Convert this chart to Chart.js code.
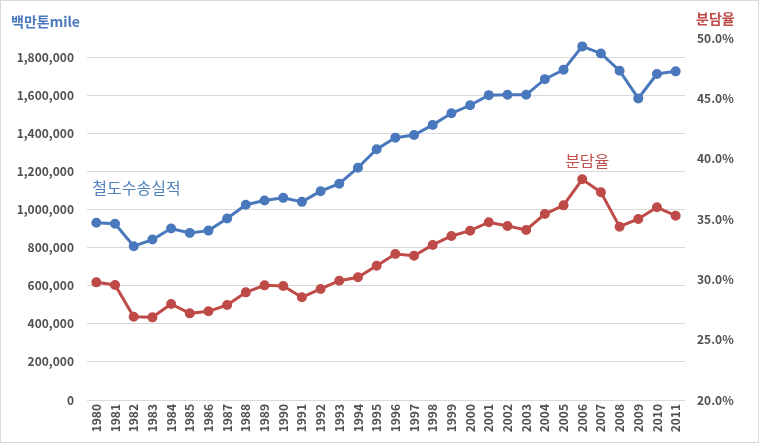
<!DOCTYPE html>
<html>
<head>
<meta charset="utf-8">
<script src="https://cdn.jsdelivr.net/npm/chart.js@4.4.1/dist/chart.umd.min.js"></script>
<style>
  html, body { margin: 0; padding: 0; background: #fff; }
  #wrap { width: 759px; height: 443px; }
</style>
</head>
<body>
<div id="wrap"><canvas id="chart" width="759" height="443"></canvas></div>
<script>
// 연도
const years = ['1980','1981','1982','1983','1984','1985','1986','1987','1988','1989',
  '1990','1991','1992','1993','1994','1995','1996','1997','1998','1999',
  '2000','2001','2002','2003','2004','2005','2006','2007','2008','2009','2010','2011'];

// 철도수송실적 (백만톤mile)
const railTonMiles = [930000, 925000, 807000, 842000, 900000, 877000, 889000, 953000, 1025000, 1047000,
  1061000, 1040000, 1096000, 1135000, 1219000, 1316000, 1377000, 1391000, 1444000, 1505000,
  1547000, 1600000, 1602000, 1602000, 1684000, 1733000, 1856000, 1819000, 1728000, 1583000, 1711000, 1725000];

// 분담율 (%)
const shareRate = [29.75, 29.53, 26.90, 26.85, 27.96, 27.18, 27.35, 27.87, 28.92, 29.50,
  29.45, 28.51, 29.20, 29.89, 30.17, 31.13, 32.10, 31.96, 32.85, 33.59,
  34.03, 34.73, 34.42, 34.09, 35.41, 36.13, 38.29, 37.21, 34.36, 35.00, 35.97, 35.27];

// 눈금
const leftTicks = [0, 200000, 400000, 600000, 800000, 1000000, 1200000, 1400000, 1600000, 1800000];
const rightTicks = [20, 25, 30, 35, 40, 45, 50];

const blue = '#4a78bd';
const red = '#be4b48';
const tickColor = '#505050';
const korFont = '"Noto Sans CJK KR", "Noto Sans", sans-serif';

// 배경, 테두리, 축 제목, 라벨
const extras = {
    id: 'extras',
    beforeDraw(chart) {
        const ctx = chart.ctx;
        ctx.save();
        ctx.fillStyle = '#fff';
        ctx.fillRect(0, 0, chart.width, chart.height);
        ctx.strokeStyle = '#d9d9d9';
        ctx.lineWidth = 1;
        ctx.strokeRect(0.5, 0.5, chart.width - 1, chart.height - 1);
        ctx.restore();
    },
    afterDraw(chart) {
        const ctx = chart.ctx;
        const x = chart.scales.x, y = chart.scales.y, y1 = chart.scales.y1;
        ctx.save();
        ctx.textBaseline = 'middle';

        // 축 제목
        ctx.font = 'bold 14px ' + korFont;
        ctx.fillStyle = blue;
        ctx.textAlign = 'left';
        ctx.fillText('백만톤mile', 11, 22);
        ctx.fillStyle = red;
        ctx.fillText('분담율', y1.left + 11, 19);

        // 시리즈 라벨
        ctx.font = '16px ' + korFont;
        ctx.fillStyle = '#4f81bd';
        ctx.textAlign = 'left';
        ctx.fillText('철도수송실적', x.getPixelForValue(0) - 4, y.getPixelForValue(1115000));
        ctx.fillStyle = '#c0504d';
        ctx.textAlign = 'center';
        ctx.fillText('분담율', x.getPixelForValue(26) + 5, y1.getPixelForValue(39.8));
        ctx.restore();
    }
};

new Chart(document.getElementById('chart'), {
    type: 'line',
    data: {
        labels: years,
        datasets: [{
            label: '철도수송실적',
            data: railTonMiles,
            yAxisID: 'y',
            borderColor: blue,
            backgroundColor: blue,
            borderWidth: 3,
            pointRadius: 3.5,
            pointHoverRadius: 3.5,
            tension: 0
        }, {
            label: '분담율',
            data: shareRate,
            yAxisID: 'y1',
            borderColor: red,
            backgroundColor: red,
            borderWidth: 3,
            pointRadius: 3.5,
            pointHoverRadius: 3.5,
            tension: 0
        }]
    },
    options: {
        responsive: false,
        animation: false,
        layout: { padding: { top: 38 } },
        plugins: {
            legend: { display: false },
            tooltip: { enabled: false }
        },
        scales: {
            x: {
                offset: true,
                grid: { display: false, drawTicks: false },
                border: { display: false },
                ticks: {
                    minRotation: 90,
                    maxRotation: 90,
                    autoSkip: false,
                    padding: 4,
                    color: tickColor,
                    font: { family: korFont, size: 12, weight: 'bold' }
                },
                afterFit(scale) { scale.height = 43; }
            },
            y: {
                position: 'left',
                min: 0,
                max: 1900000,
                grid: { color: '#d9d9d9', drawTicks: false },
                border: { display: false },
                ticks: {
                    padding: 13,
                    color: tickColor,
                    font: { family: korFont, size: 12, weight: 'bold' },
                    callback: v => v.toLocaleString('en-US')
                },
                afterBuildTicks(scale) {
                    scale.ticks = leftTicks.map(v => ({ value: v }));
                },
                afterFit(scale) { scale.width = 87; }
            },
            y1: {
                position: 'right',
                min: 20,
                max: 50,
                grid: { display: false, drawTicks: false },
                border: { display: false },
                ticks: {
                    padding: 12,
                    color: tickColor,
                    font: { family: korFont, size: 12, weight: 'bold' },
                    callback: v => v.toFixed(1) + '%'
                },
                afterBuildTicks(scale) {
                    scale.ticks = rightTicks.map(v => ({ value: v }));
                },
                afterFit(scale) { scale.width = 74; }
            }
        }
    },
    plugins: [extras]
});
</script>
</body>
</html>
